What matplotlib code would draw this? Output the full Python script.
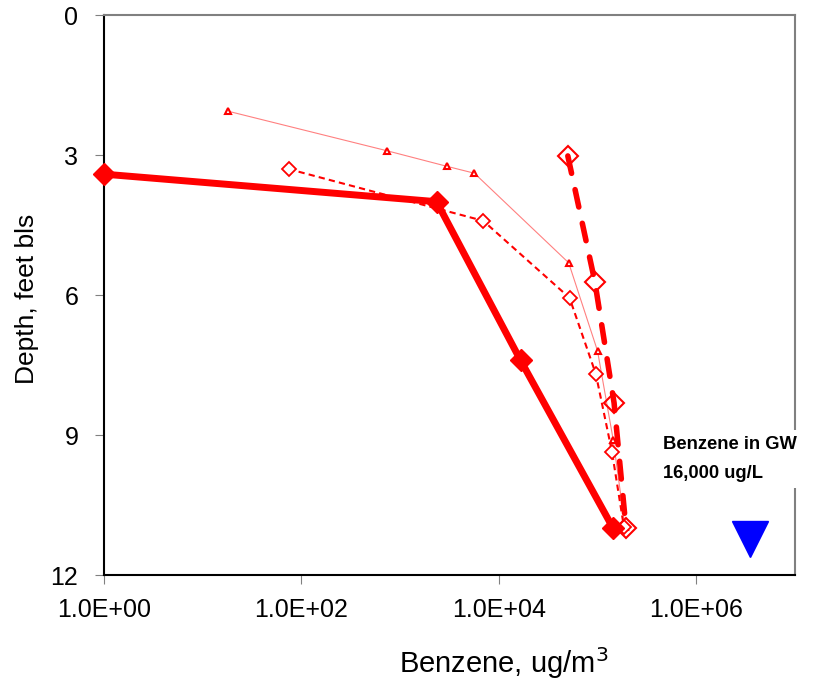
import matplotlib
matplotlib.use("Agg")
import matplotlib.pyplot as plt

plt.rcParams['font.family'] = ['Liberation Sans', 'DejaVu Sans']

# Data (benzene ug/m3 vs depth ft bls)
s1_x = [1.0, 2340, 16600, 144000]
s1_y = [3.41, 4.0, 7.4, 11.0]

s2_x = [18, 740, 2950, 5650, 51000, 100000, 144000, 190000]
s2_y = [2.06, 2.91, 3.24, 3.39, 5.31, 7.2, 9.1, 10.97]

s3_x = [74, 6950, 52000, 96000, 140000, 185000]
s3_y = [3.3, 4.41, 6.06, 7.69, 9.36, 10.97]

s4_x = [50000, 94000, 147000, 194000]
s4_y = [3.02, 5.72, 8.31, 10.99]

gw_x = [3.5e6]
gw_y = [11.23]

xticks = [1, 1e2, 1e4, 1e6]
xtick_labels = ["1.0E+00", "1.0E+02", "1.0E+04", "1.0E+06"]
yticks = [0, 3, 6, 9, 12]

fig = plt.figure(figsize=(8.4, 6.86), dpi=100)
ax = fig.add_axes([0.1238, 0.1618, 0.9464 - 0.1238, 0.9781 - 0.1618])

red = '#FF0000'
ax.plot(s2_x, s2_y, color='#FF8080', lw=0.8, marker='^', ms=5,
        mfc='white', mec=red, mew=1.5, zorder=3)
ax.plot(s3_x, s3_y, color=red, lw=1.5, ls=(0, (3, 2)), marker='D', ms=7,
        mfc='white', mec=red, mew=1.3, zorder=4)
ax.plot(s4_x, s4_y, color=red, lw=4, ls=(0, (3.2, 3)), dash_capstyle='round',
        marker='D', ms=10, mfc='none', mec=red, mew=1.5, zorder=5)
ax.plot(s1_x, s1_y, color=red, lw=5, marker='D', ms=11,
        mfc=red, mec=red, zorder=6, clip_on=False)
ax.plot(gw_x, gw_y, ls='none', marker='v', ms=26, color='#0000FF', zorder=6)

ax.set_xscale('log')
ax.set_xlim(1, 1e7)
ax.set_ylim(12, 0)
ax.set_xticks(xticks)
ax.set_xticklabels(xtick_labels)
ax.xaxis.set_minor_locator(matplotlib.ticker.NullLocator())
ax.set_yticks(yticks)
ax.tick_params(axis='both', labelsize=18, direction='out', length=6.5,
               color='#808080')
ax.tick_params(axis='x', pad=10)
ax.tick_params(axis='y', pad=12)

for s in ['top', 'right']:
    ax.spines[s].set_color('#808080')
    ax.spines[s].set_linewidth(1.5)
for s in ['left', 'bottom']:
    ax.spines[s].set_color('black')
    ax.spines[s].set_linewidth(1.5)

ax.set_xlabel('Benzene, ug/m$^3$', fontsize=21, va='center')
ax.xaxis.set_label_coords((504 - 104) / 691, (575 - 663) / 560)
ax.set_ylabel('Depth, feet bls', fontsize=19, va='center')
ax.yaxis.set_label_coords((27 - 104) / 691, (575 - 299) / 560)

ax.text(663 / 840, 1 - 459 / 686, 'Benzene in GW\n16,000 ug/L',
        transform=fig.transFigure, fontsize=13.2, fontweight='bold',
        va='center', ha='left', linespacing=1.95, zorder=10,
        bbox=dict(facecolor='white', edgecolor='none', pad=4))

fig.savefig('out.png', dpi=100)
